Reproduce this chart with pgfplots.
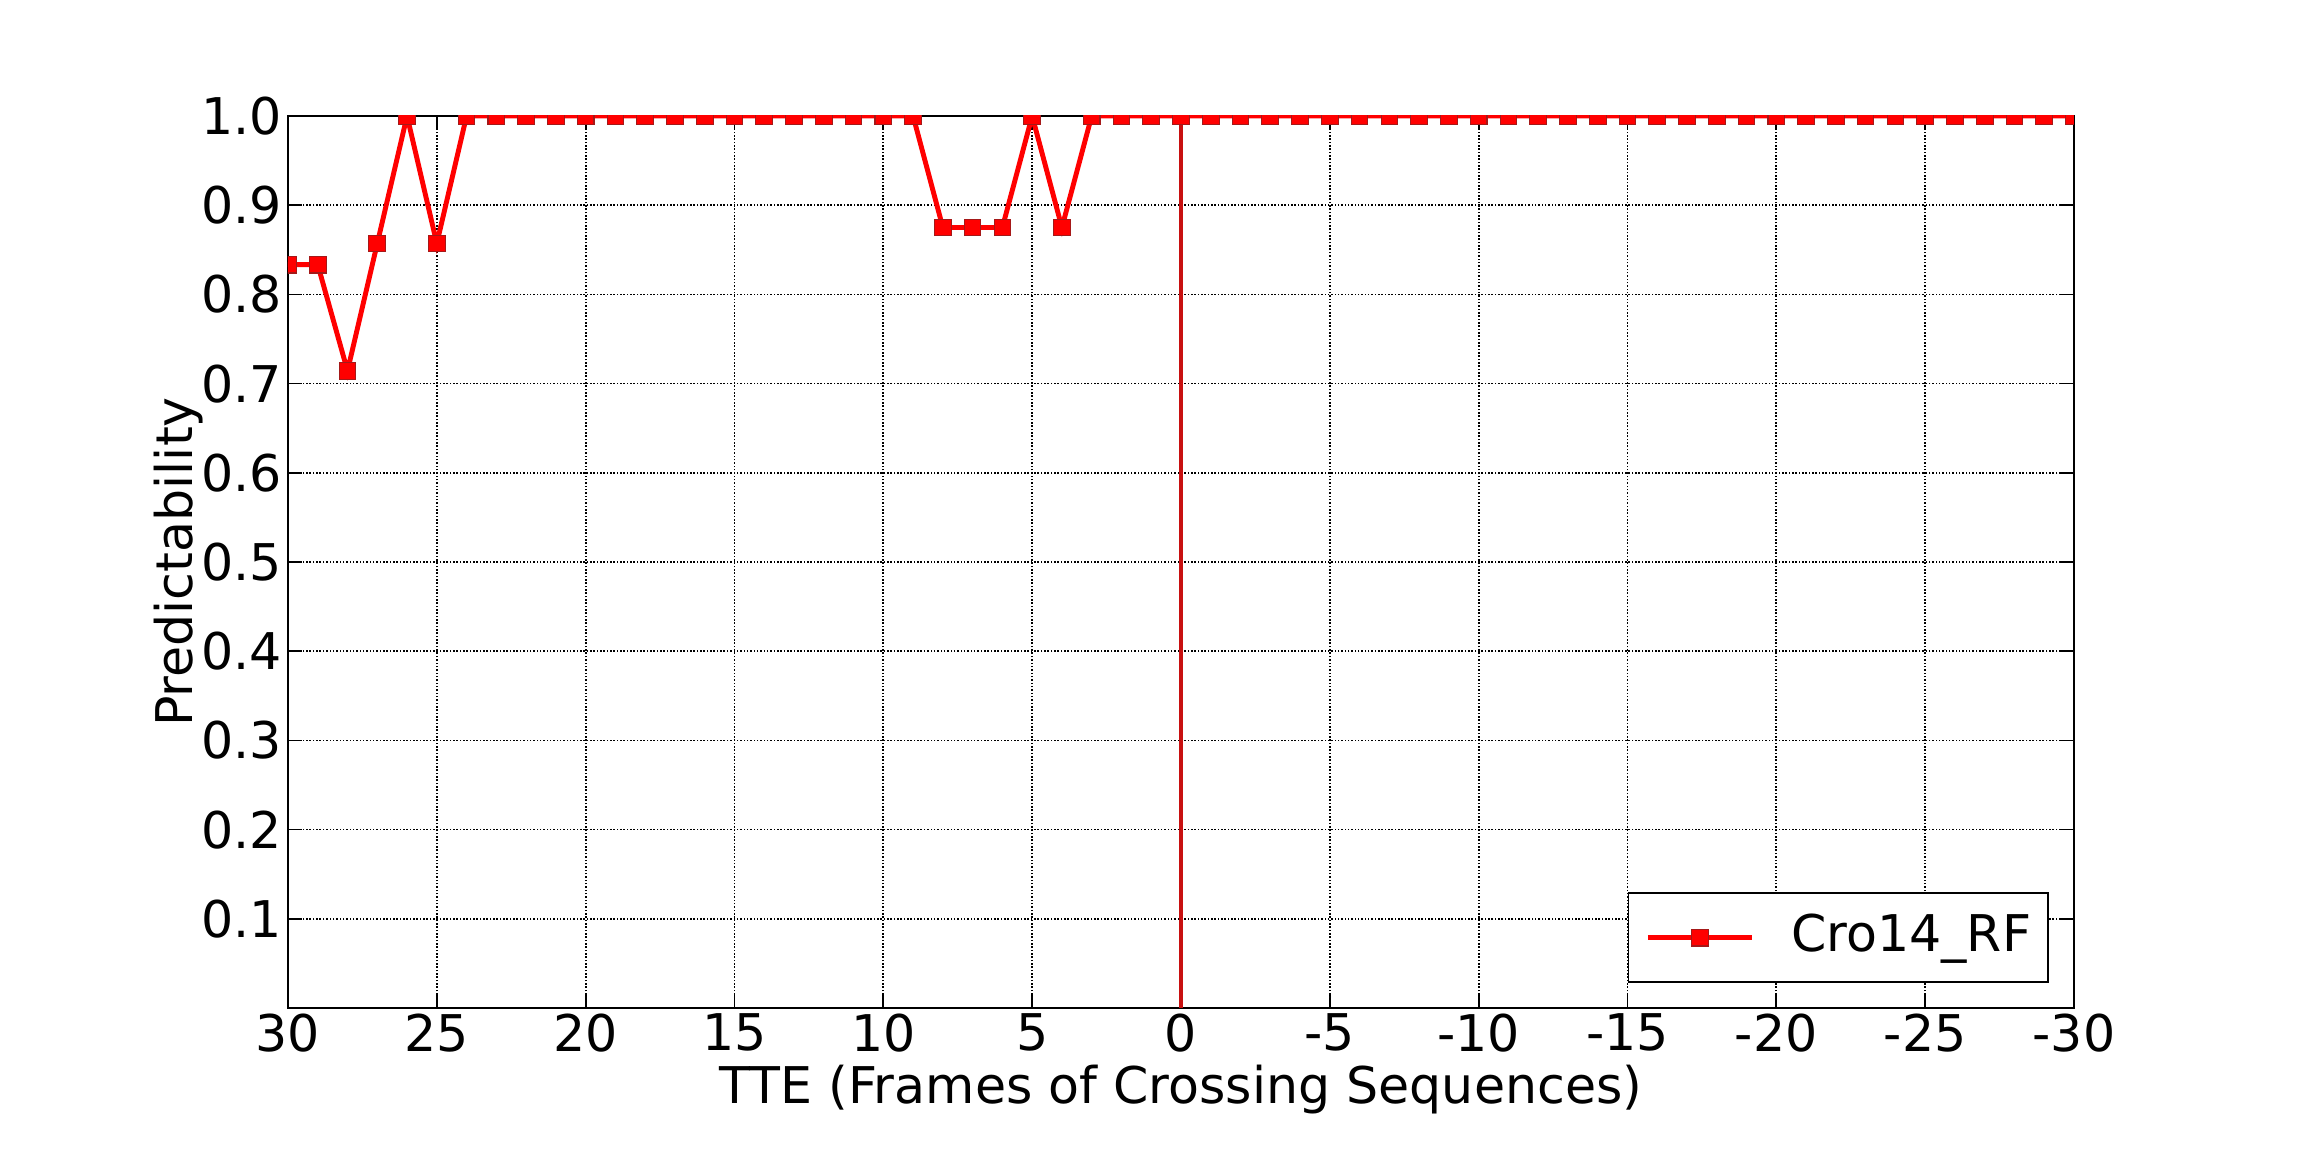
\documentclass[border=0pt]{standalone}
\usepackage{fontspec}
\setmainfont{DejaVu Sans}
\usepackage{pgfplots}
\pgfplotsset{compat=1.18}

\definecolor{lred}{RGB}{255,0,0}
\definecolor{medge}{RGB}{165,25,25}
\definecolor{vred}{RGB}{200,16,16}

\pgfplotstableread{
x y
30 0.8333
29 0.8333
28 0.7143
27 0.8571
26 1.0
25 0.8571
24 1.0
23 1.0
22 1.0
21 1.0
20 1.0
19 1.0
18 1.0
17 1.0
16 1.0
15 1.0
14 1.0
13 1.0
12 1.0
11 1.0
10 1.0
9 1.0
8 0.875
7 0.875
6 0.875
5 1.0
4 0.875
3 1.0
2 1.0
1 1.0
0 1.0
-1 1.0
-2 1.0
-3 1.0
-4 1.0
-5 1.0
-6 1.0
-7 1.0
-8 1.0
-9 1.0
-10 1.0
-11 1.0
-12 1.0
-13 1.0
-14 1.0
-15 1.0
-16 1.0
-17 1.0
-18 1.0
-19 1.0
-20 1.0
-21 1.0
-22 1.0
-23 1.0
-24 1.0
-25 1.0
-26 1.0
-27 1.0
-28 1.0
-29 1.0
-30 1.0
}\cro

\begin{document}
\begin{tikzpicture}
\path[use as bounding box] (0,0) rectangle (23.04cm,11.52cm);
\begin{axis}[
    at={(2.88cm,1.44cm)}, anchor=south west,
    scale only axis,
    width=17.86cm, height=8.92cm,
    x dir=reverse,
    xmin=-30, xmax=30,
    ymin=0, ymax=1,
    xtick={30,25,20,15,10,5,0,-5,-10,-15,-20,-25,-30},
    xticklabels={30,25,20,15,10,5,0,-5,-10,-15,-20,-25,-30},
    ytick={0.1,0.2,0.3,0.4,0.5,0.6,0.7,0.8,0.9,1.0},
    yticklabels={0.1,0.2,0.3,0.4,0.5,0.6,0.7,0.8,0.9,1.0},
    tick label style={font=\fontsize{14.4}{17}\selectfont},
    xticklabel style={inner ysep=1.4pt},
    yticklabel style={inner xsep=1.5pt},
    label style={font=\fontsize{14.4}{17}\selectfont},
    xlabel={TTE (Frames of Crossing Sequences)},
    ylabel={Predictability},
    xlabel style={at={(axis description cs:0.5,-0.1065)}, anchor=base},
    ylabel style={at={(axis description cs:-0.0532,0.5)}, anchor=base},
    tick align=inside,
    major tick length=4pt,
    tick style={black, line width=0.5pt},
    axis line style={black, line width=0.5pt},
    grid=major,
    major grid style={black, line width=0.5pt, dash pattern=on 0.45pt off 0.5pt},
    clip marker paths=true,
    legend style={
        at={(0.986,0.028)}, anchor=south east,
        draw=black, line width=0.5pt,
        font=\fontsize{14.4}{17}\selectfont,
        inner xsep=4.8pt, inner ysep=0pt,
        column sep=0pt,
        nodes={inner sep=0pt, text height=16.6pt, text depth=8.7pt},
    },
    legend cell align=left,
    legend image code/.code={
        \draw[#1, mark=none] (0cm,0cm) -- (1.04cm,0cm);
        \draw[#1, only marks] plot coordinates {(0.52cm,0cm)};
    },
]
\addplot[forget plot, color=vred, line width=1.1pt] coordinates {(0,0) (0,1)};
\addplot[
    color=lred, line width=1.4pt,
    mark=square*, mark size=2.37pt,
    mark options={fill=lred, draw=medge, line width=0.3pt, solid},
] table[x=x, y=y] {\cro};
\addlegendentry{\hspace{10.5pt}Cro14\_RF\hspace{1.5pt}}
\end{axis}
\end{tikzpicture}
\end{document}
